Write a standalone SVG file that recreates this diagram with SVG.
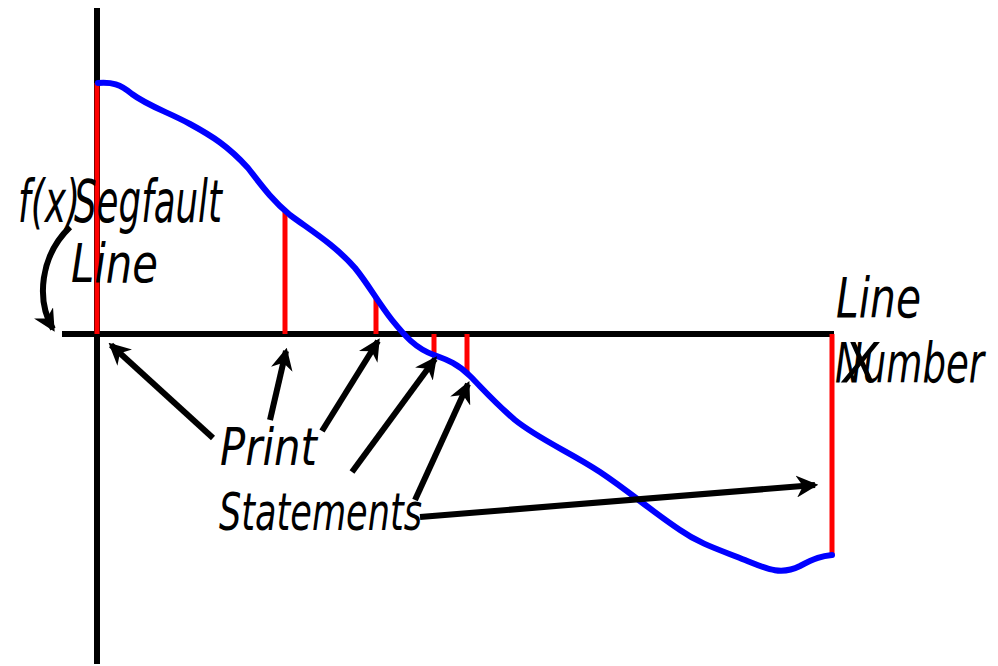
<svg xmlns="http://www.w3.org/2000/svg" width="998" height="666" viewBox="0 0 998 666">
<defs>
<style>
.ax{stroke:#000;stroke-width:6;fill:none}
.red{stroke:#f00;stroke-width:5;fill:none}
.blue{stroke:#00f;stroke-width:6;fill:none;stroke-linecap:round;stroke-linejoin:round}
.arr{stroke:#000;stroke-width:6;fill:none}
.t{font-family:"DejaVu Sans","Liberation Sans",sans-serif;font-style:italic;fill:#000}
</style>
<marker id="ah" viewBox="0 0 20 20" markerWidth="22" markerHeight="22" markerUnits="userSpaceOnUse" refX="17" refY="10" orient="auto">
<path d="M0,0 L20,10 L0,20 L6,10 z" fill="#000"/>
</marker>
</defs>
<rect width="998" height="666" fill="#fff"/>
<g id="plot">
<line class="ax" x1="97" y1="8" x2="97" y2="664"/>
<line class="ax" x1="62" y1="334" x2="834" y2="334"/>
<line class="red" x1="97" y1="83" x2="97" y2="334"/>
<line class="red" x1="285" y1="212" x2="285" y2="334"/>
<line class="red" x1="376" y1="298" x2="376" y2="334"/>
<line class="red" x1="434" y1="334" x2="434" y2="355"/>
<line class="red" x1="467" y1="334" x2="467" y2="373"/>
<line class="red" x1="832" y1="334" x2="832" y2="555"/>
<path class="blue" d="M98,83 C112,82 120,84 132,94 C148,106 168,112 190,124 C212,136 228,146 248,168 C262,186 272,200 290,215 C310,230 335,245 355,268 C368,284 378,302 392,320 C405,336 415,348 434,355 C448,360 458,364 470,376 C482,388 494,402 515,420 C540,440 570,452 600,472 C630,492 650,510 680,530 C700,544 720,550 745,560 C765,568 780,576 800,566 C815,558 822,556 832,555"/>
</g>
<g id="connectors">
<line class="arr" x1="213" y1="438" x2="111" y2="345" marker-end="url(#ah)"/>
<line class="arr" x1="270" y1="420" x2="286" y2="351" marker-end="url(#ah)"/>
<line class="arr" x1="322" y1="431" x2="378" y2="341" marker-end="url(#ah)"/>
<line class="arr" x1="352" y1="472" x2="435" y2="359" marker-end="url(#ah)"/>
<line class="arr" x1="415" y1="500" x2="468" y2="384" marker-end="url(#ah)"/>
<line class="arr" x1="420" y1="517" x2="815" y2="485" marker-end="url(#ah)"/>
<path class="arr" d="M70,227 C40,256 36,300 53,329" marker-end="url(#ah)"/>
</g>
<g id="labels">
<text class="t" x="18" y="222" font-size="58" textLength="62" lengthAdjust="spacingAndGlyphs">f(x)</text>
<text class="t" x="74" y="222" font-size="58" textLength="148" lengthAdjust="spacingAndGlyphs">Segfault</text>
<text class="t" x="71" y="282" font-size="54" textLength="87" lengthAdjust="spacingAndGlyphs">Line</text>
<text class="t" x="836" y="317" font-size="55" textLength="85" lengthAdjust="spacingAndGlyphs">Line</text>
<text class="t" x="843" y="382" font-size="55" textLength="36" lengthAdjust="spacingAndGlyphs">X</text>
<text class="t" x="835" y="382" font-size="55" textLength="149" lengthAdjust="spacingAndGlyphs">Number</text>
<text class="t" x="220" y="465" font-size="52" textLength="97" lengthAdjust="spacingAndGlyphs">Print</text>
<text class="t" x="219" y="530" font-size="51" textLength="203" lengthAdjust="spacingAndGlyphs">Statements</text>
</g>
</svg>
